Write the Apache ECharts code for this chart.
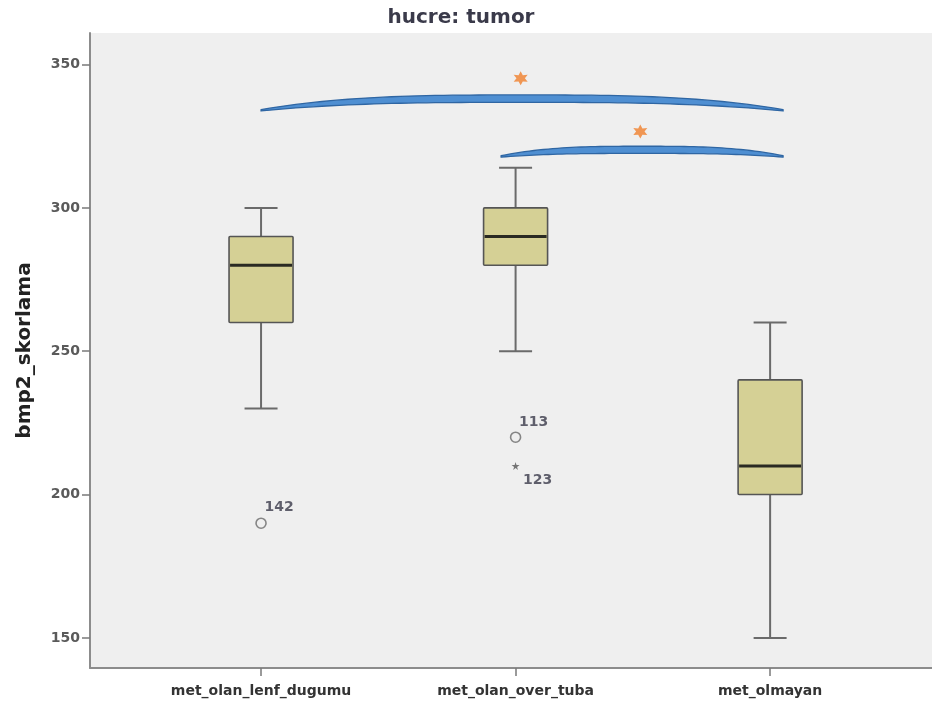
<!DOCTYPE html>
<html>
<head>
<meta charset="utf-8">
<title>bmp2_skorlama</title>
<script src="https://cdn.jsdelivr.net/npm/echarts@6/dist/echarts.min.js"></script>
<style>
  html, body { margin: 0; padding: 0; background: #ffffff; }
  #chart { width: 932px; height: 704px; }
</style>
</head>
<body>
<div id="chart"></div>
<script>
// Groups along the x axis
const categories = ['met_olan_lenf_dugumu', 'met_olan_over_tuba', 'met_olmayan'];

// Box statistics per group: lower whisker, Q1, median, Q3, upper whisker
const whiskerLow = [230, 250, 150];
const q1 = [260, 280, 200];
const median = [280, 290, 210];
const q3 = [290, 300, 240];
const whiskerHigh = [300, 314, 260];

// Individual cases outside the whiskers: group index, value, case id
const outlierGroup = [0, 1];
const outlierValue = [190, 220];
const outlierId = ['142', '113'];
const extremeGroup = [1];
const extremeValue = [210];
const extremeId = ['123'];

// Significance brackets: from group, to group, end level, crest top, crest bottom
const bracketFrom = [0, 0.943];
const bracketTo = [2.051, 2.051];
const bracketEnd = [334.3, 318.2];
const bracketTop = [339.4, 321.5];
const bracketBottom = [336.8, 319.0];
// Asterisk marks above the brackets: x position, level
const starX = [1.02, 1.49];
const starY = [345.2, 326.6];

const yTicks = [150, 200, 250, 300, 350];

const FONT = 'DejaVu Sans, Verdana, sans-serif';

// Six-pointed asterisk shape for the significance marks
function asteriskPath() {
  const pts = [];
  for (let i = 0; i < 12; i++) {
    const a = -Math.PI / 2 + i * Math.PI / 6;
    const r = i % 2 === 0 ? 50 : 26;
    pts.push((50 + r * Math.cos(a)).toFixed(2) + ',' + (50 + r * Math.sin(a)).toFixed(2));
  }
  return 'path://M' + pts.join(' L') + ' Z';
}
const smallStar = 'path://M50,0 L61,35 L98,35 L68,57 L79,91 L50,70 L21,91 L32,57 L2,35 L39,35 Z';

const boxData = categories.map((c, i) => [i, whiskerLow[i], q1[i], median[i], q3[i], whiskerHigh[i]]);
const outlierData = outlierGroup.map((g, i) => ({ value: [g, outlierValue[i]], name: outlierId[i] }));
const extremeData = extremeGroup.map((g, i) => ({ value: [g, extremeValue[i]], name: extremeId[i] }));
const bracketData = bracketFrom.map((f, i) => [f, bracketTo[i], bracketEnd[i], bracketTop[i], bracketBottom[i]]);
const starData = starX.map((x, i) => [x, starY[i]]);

// Case-id label placement relative to its symbol
const labelOffsets = { '142': [18, -16], '113': [18, -15], '123': [22, 14] };

const caseLabel = {
  show: true,
  position: 'inside',
  formatter: p => p.name,
  fontFamily: FONT,
  fontSize: 14, fontWeight: 'bold', color: '#3a3a4a'
};

const chart = echarts.init(document.getElementById('chart'), null, { renderer: 'canvas' });

chart.setOption({
  backgroundColor: '#ffffff',
  animation: false,
  title: {
    text: 'hucre: tumor',
    left: 456,
    top: 3,
    textAlign: 'center',
    textStyle: { fontFamily: FONT, fontSize: 20, fontWeight: 'bold', color: '#3a3a4a' }
  },
  grid: {
    left: 90, right: 0, top: 33, bottom: 36,
    show: true, backgroundColor: '#efefef', borderWidth: 0
  },
  xAxis: {
    type: 'value',
    min: -0.672,
    max: 2.636,
    axisLine: { show: true, onZero: false, lineStyle: { color: '#8c8c8c', width: 2 } },
    axisTick: { show: true, length: 8, customValues: [0, 1, 2], lineStyle: { color: '#7a7a7a', width: 1.5 } },
    axisLabel: {
      customValues: [0, 1, 2],
      formatter: v => categories[Math.round(v)],
      margin: 16,
      fontFamily: FONT,
      fontSize: 14, fontWeight: 'bold', color: '#333333'
    },
    splitLine: { show: false }
  },
  yAxis: {
    type: 'value',
    min: 139.5,
    max: 361,
    name: 'bmp2_skorlama',
    nameLocation: 'middle',
    nameGap: 55,
    nameTextStyle: { fontFamily: FONT, fontSize: 20, fontWeight: 'bold', color: '#222222' },
    axisLine: { show: true, onZero: false, lineStyle: { color: '#8c8c8c', width: 2 } },
    axisTick: { show: true, length: 8, customValues: yTicks, lineStyle: { color: '#7a7a7a', width: 1.5 } },
    axisLabel: {
      customValues: yTicks,
      margin: 10,
      fontFamily: FONT,
      fontSize: 14, fontWeight: 'bold', color: '#5a5a5a'
    },
    splitLine: { show: false }
  },
  series: [
    {
      // Box, whiskers with short caps and a heavy median line
      type: 'custom',
      data: boxData,
      clip: false,
      renderItem: function (params, api) {
        const x = api.value(0);
        const pLow = api.coord([x, api.value(1)]);
        const pQ1 = api.coord([x, api.value(2)]);
        const pMed = api.coord([x, api.value(3)]);
        const pQ3 = api.coord([x, api.value(4)]);
        const pHigh = api.coord([x, api.value(5)]);
        const half = 32, cap = 16.5;
        const wStyle = { stroke: '#6a6a6a', lineWidth: 2 };
        return {
          type: 'group',
          children: [
            { type: 'line', shape: { x1: pQ3[0], y1: pQ3[1], x2: pHigh[0], y2: pHigh[1] }, style: wStyle },
            { type: 'line', shape: { x1: pQ1[0], y1: pQ1[1], x2: pLow[0], y2: pLow[1] }, style: wStyle },
            { type: 'line', shape: { x1: pHigh[0] - cap, y1: pHigh[1], x2: pHigh[0] + cap, y2: pHigh[1] }, style: wStyle },
            { type: 'line', shape: { x1: pLow[0] - cap, y1: pLow[1], x2: pLow[0] + cap, y2: pLow[1] }, style: wStyle },
            {
              type: 'rect',
              shape: { x: pQ3[0] - half, y: pQ3[1], width: half * 2, height: pQ1[1] - pQ3[1], r: 1 },
              style: { fill: '#d5d095', stroke: '#555555', lineWidth: 1.6 }
            },
            { type: 'line', shape: { x1: pMed[0] - half + 1, y1: pMed[1], x2: pMed[0] + half - 1, y2: pMed[1] },
              style: { stroke: '#2a2a22', lineWidth: 3 } }
          ]
        };
      },
      z: 3
    },
    {
      // Outliers (circles)
      type: 'scatter',
      data: outlierData,
      symbol: 'circle',
      symbolSize: 10,
      itemStyle: { color: 'rgba(0,0,0,0)', borderColor: '#6a6a6a', borderWidth: 1.6 },
      label: caseLabel,
      labelLayout: function (params) {
        const off = labelOffsets[outlierId[params.dataIndex]];
        return { dx: off[0], dy: off[1] };
      },
      z: 4
    },
    {
      // Extreme cases (stars)
      type: 'scatter',
      data: extremeData,
      symbol: smallStar,
      symbolSize: 8,
      itemStyle: { color: '#555555' },
      label: caseLabel,
      labelLayout: function (params) {
        const off = labelOffsets[extremeId[params.dataIndex]];
        return { dx: off[0], dy: off[1] };
      },
      z: 4
    },
    {
      // Curved significance brackets
      type: 'custom',
      data: bracketData,
      clip: false,
      renderItem: function (params, api) {
        const x0 = api.value(0), x1 = api.value(1);
        const yEnd = api.value(2), yTop = api.value(3), yBot = api.value(4);
        const n = 60;
        const upper = [], lower = [];
        for (let k = 0; k <= n; k++) {
          const t = k / n;
          const f = 1 - Math.pow(Math.abs(2 * t - 1), 3);
          const xv = x0 + (x1 - x0) * t;
          upper.push(api.coord([xv, yEnd + (yTop - yEnd) * f]));
          lower.push(api.coord([xv, yEnd - 0.5 + (yBot - yEnd + 0.5) * f]));
        }
        const pts = upper.concat(lower.reverse());
        return {
          type: 'polygon',
          shape: { points: pts, smooth: 0 },
          style: { fill: '#4f8fd2', stroke: '#2f66a3', lineWidth: 1.3, lineJoin: 'round' }
        };
      },
      z: 5
    },
    {
      // Significance asterisks
      type: 'scatter',
      data: starData,
      symbol: asteriskPath(),
      symbolSize: 14,
      itemStyle: { color: '#f0802c' },
      z: 6
    }
  ]
});
</script>
</body>
</html>
